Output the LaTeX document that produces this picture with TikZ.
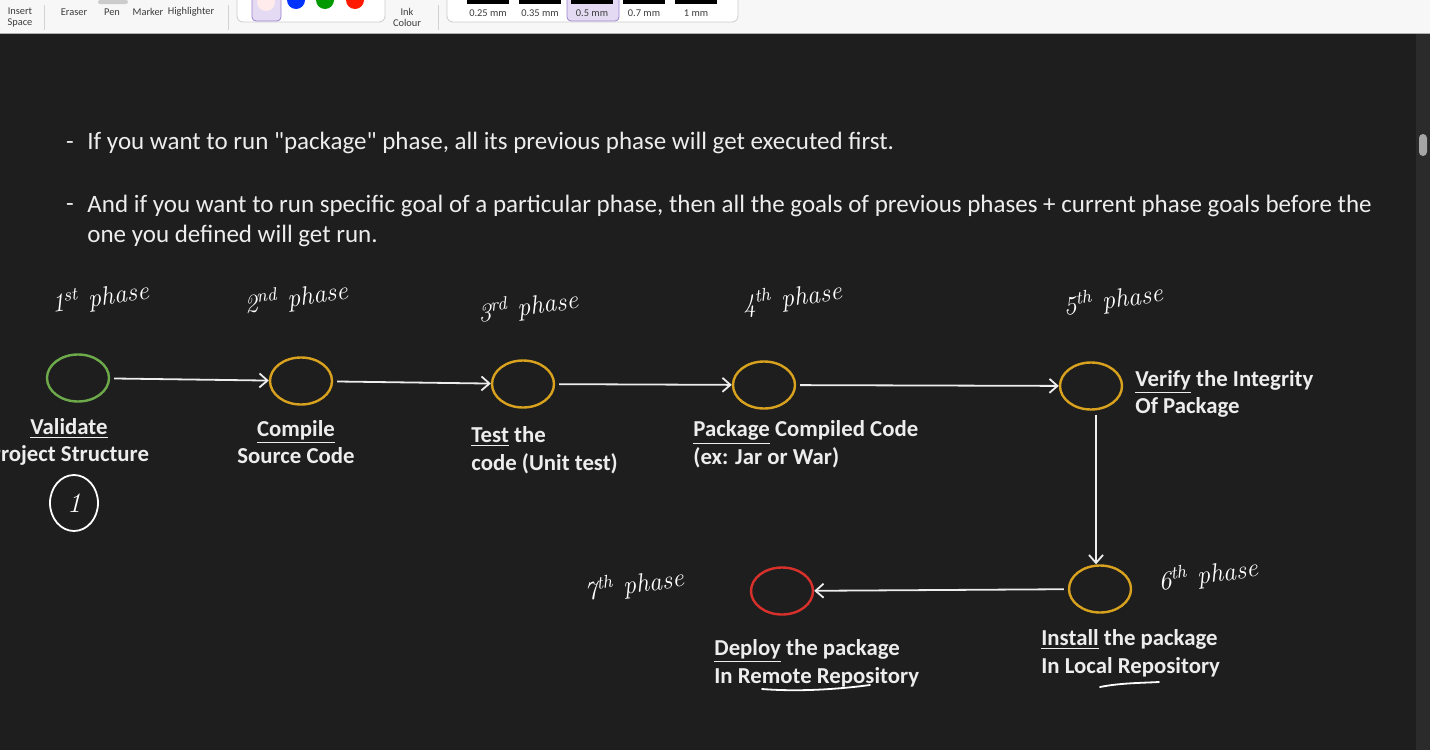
\documentclass[tikz,border=0pt]{standalone}
\usepackage{fontspec}
\setmainfont{Carlito}
\usetikzlibrary{arrows.meta,positioning,shapes.geometric,calc}
\definecolor{Canvas}{HTML}{1E1E1E}
\definecolor{Ink}{HTML}{EDEDED}
\definecolor{PhaseGreen}{HTML}{6DAA4A}
\definecolor{PhaseGold}{HTML}{D9A21E}
\definecolor{PhaseRed}{HTML}{D8312B}
\definecolor{Bar}{HTML}{F7F7F7}
\definecolor{BarText}{HTML}{3C3C3C}
\definecolor{Lilac}{HTML}{E4DAF3}
\definecolor{LilacEdge}{HTML}{9C84CC}
\definecolor{Scroll}{HTML}{2B2B2B}
\newcommand{\hand}{\fontfamily{lmr}\fontseries{m}\itshape\selectfont}

\begin{document}
\begin{tikzpicture}[x=0.5pt,y=-0.5pt,
  phase/.style={draw=#1,ellipse,line width=1.2pt,minimum width=31pt,minimum height=23.5pt,inner sep=0pt},
  flow/.style={draw=Ink,line width=0.9pt,-{Straight Barb[length=4pt,width=7pt]},shorten <=2pt},
  phaselabel/.style={text=Ink,font=\fontsize{11.4}{13.8}\selectfont\bfseries,align=left,inner sep=0pt},
  note/.style={text=Ink,font=\fontsize{12.5}{15}\selectfont,align=left,inner sep=0pt},
  hand/.style={text=white,font=\hand\fontsize{13}{13}\selectfont,inner sep=0pt},
  scribble/.style={draw=white,line width=0.9pt,line cap=round},
  tool/.style={text=BarText,font=\fontsize{5.2}{5.5}\selectfont,inner sep=0pt,align=center}]
  \fill[Canvas] (0,0) rectangle (1430,750);
  \useasboundingbox (0,0) rectangle (1430,750);

  % toolbar
  \fill[Bar] (0,0) rectangle (1430,33);
  \draw[gray!60,line width=0.75pt] (0,33.5) -- (1430,33.5);
  \foreach \x in {44,228,438} {
    \draw[gray!35] (\x,5) -- (\x,30);
  }
  \fill[gray!40,rounded corners=1pt] (98,0) rectangle (128,4);
  \node[tool] (ins) at (20,17) {Insert\\Space};
  \node[tool] (era) at (74,12) {Eraser};
  \node[tool] (pen) at (112,12) {Pen};
  \node[tool] (mrk) at (148,12) {Marker};
  \node[tool] (hil) at (191,12) {Highlighter};
  \draw[gray!40,fill=white,rounded corners=3pt] (237,-6) rectangle (385,22);
  \draw[LilacEdge,fill=Lilac,rounded corners=2pt] (252,-6) rectangle (281,21);
  \fill[red!8] (266,2) circle (4.5pt);
  \fill[blue!80!cyan] (296,0) circle (4.5pt);
  \fill[green!60!black] (325,0) circle (4.5pt);
  \fill[red!80!orange] (355,0) circle (4.5pt);
  \node[tool] (ink) at (407,17) {Ink\\Colour};
  \draw[gray!40,fill=white,rounded corners=3pt] (447,-6) rectangle (738,22);
  \draw[LilacEdge,fill=Lilac,rounded corners=2pt] (567,-6) rectangle (619,21);
  \foreach \x/\t [count=\i] in {488/0.25 mm,540/0.35 mm,592/0.5 mm,644/0.7 mm,696/1 mm} {
    \fill[black] (\x-21,0) rectangle (\x+21,4);
    \node[tool] (size\i) at (\x,13) {\t};
  }
  \fill[Scroll] (1416,34) rectangle (1430,750);
  \fill[gray!70,rounded corners=2pt] (1419,134) rectangle (1427,156);

  % notes
  \node[note,anchor=west] (pt1) at (87,143) {If you want to run \textquotedbl package\textquotedbl\ phase, all its previous phase will get executed first.};
  \node[note,anchor=west] (pt2) at (87,221) {And if you want to run specific goal of a particular phase, then all the goals of previous phases + current phase goals before the\\one you defined will get run.};
  \node[note,anchor=base] (dash1) at ($(pt1.base west)+(-17,0)$) {-};
  \node[note,anchor=base] (dash2) at ($(pt1.base west)+(-17,62)$) {-};

  % phases
  \node[phase=PhaseGreen] (ph1) at (78,378) {};
  \node[phase=PhaseGold] (ph2) at (301,381) {};
  \node[phase=PhaseGold] (ph3) at (523,384) {};
  \node[phase=PhaseGold] (ph4) at (764,385) {};
  \node[phase=PhaseGold] (ph5) at (1091,386) {};
  \node[phase=PhaseGold] (ph6) at (1100,589) {};
  \node[phase=PhaseRed] (ph7) at (782,591) {};
  \coordinate (drop) at (1096,0);
  \draw[flow] (ph1) -- (ph2);
  \draw[flow] (ph2) -- (ph3);
  \draw[flow] (ph3) -- (ph4);
  \draw[flow] (ph4) -- (ph5);
  \draw[flow] (ph5.south -| drop) -- (ph6.north -| drop);
  \draw[flow] (ph6) -- (ph7);

  \node[phaselabel,align=center] (lab1) at (69,442) {\underline{Validate}\\Project Structure};
  \node[phaselabel,align=center] (lab2) at (296,442) {\underline{Compile}\\Source Code};
  \node[phaselabel,anchor=west] (lab3) at (471,450) {\underline{Test} the\\code (Unit test)};
  \node[phaselabel,anchor=west] (lab4) at (693,444) {\underline{Package} Compiled Code\\(ex: Jar or War)};
  \node[phaselabel,anchor=west] (lab5) at (1135,394) {\underline{Verify} the Integrity\\Of Package};
  \node[phaselabel,anchor=west] (lab6) at (1041,653) {\underline{Install} the package\\In Local Repository};
  \node[phaselabel,anchor=west] (lab7) at (714,663) {\underline{Deploy} the package\\In Remote Repository};

  % ink
  \node[hand,rotate=8] (hw1) at (100,298) {1\textsuperscript{st} phase};
  \node[hand,rotate=8] (hw2) at (296,298) {2\textsuperscript{nd} phase};
  \node[hand,rotate=8] (hw3) at (528,307) {3\textsuperscript{rd} phase};
  \node[hand,rotate=8] (hw4) at (792,298) {4\textsuperscript{th} phase};
  \node[hand,rotate=8] (hw5) at (1113,300) {5\textsuperscript{th} phase};
  \node[hand,rotate=8] (hw6) at (1208,575) {6\textsuperscript{th} phase};
  \node[hand,rotate=8] (hw7) at (634,585) {7\textsuperscript{th} phase};
  \node[draw=white,line width=0.9pt,ellipse,minimum width=24pt,minimum height=28pt,inner sep=0pt,text=white,font=\hand\fontsize{14}{14}\selectfont] (one) at (74,503) {1};
  \draw[scribble] (762,689) .. controls (800,692) and (840,689) .. (870,685);
  \draw[scribble] (1100,687) .. controls (1120,683) and (1140,683) .. (1159,682);
\end{tikzpicture}
\end{document}
